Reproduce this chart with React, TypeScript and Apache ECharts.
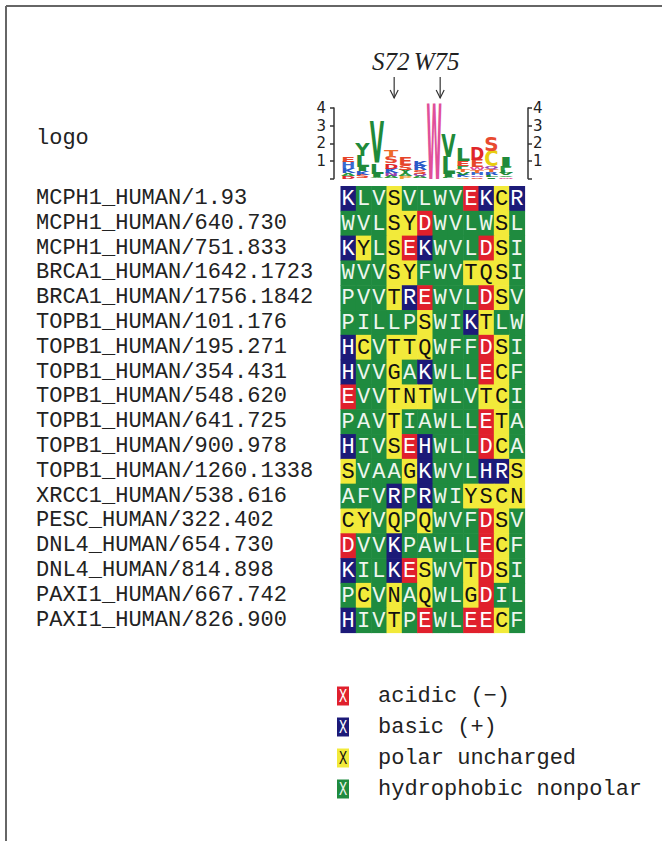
import React, { useEffect, useRef } from 'react';
import * as echarts from 'echarts';

const rowNames = [
  'MCPH1_HUMAN/1.93',
  'MCPH1_HUMAN/640.730',
  'MCPH1_HUMAN/751.833',
  'BRCA1_HUMAN/1642.1723',
  'BRCA1_HUMAN/1756.1842',
  'TOPB1_HUMAN/101.176',
  'TOPB1_HUMAN/195.271',
  'TOPB1_HUMAN/354.431',
  'TOPB1_HUMAN/548.620',
  'TOPB1_HUMAN/641.725',
  'TOPB1_HUMAN/900.978',
  'TOPB1_HUMAN/1260.1338',
  'XRCC1_HUMAN/538.616',
  'PESC_HUMAN/322.402',
  'DNL4_HUMAN/654.730',
  'DNL4_HUMAN/814.898',
  'PAXI1_HUMAN/667.742',
  'PAXI1_HUMAN/826.900',
];

const sequences = [
  'KLVSVLWVEKCR',
  'WVLSYDWVLWSL',
  'KYLSEKWVLDSI',
  'WVVSYFWVTQSI',
  'PVVTREWVLDSV',
  'PILLPSWIKTLW',
  'HCVTTQWFFDSI',
  'HVVGAKWLLECF',
  'EVVTNTWLVTCI',
  'PAVTIAWLLETA',
  'HIVSEHWLLDCA',
  'SVAAGKWVLHRS',
  'AFVRPRWIYSCN',
  'CYVQPQWVFDSV',
  'DVVKPAWLLECF',
  'KILKESWVTDSI',
  'PCVNAQWLGDIL',
  'HIVTPEWLEECF',
];

const columns = ['1', '2', '3', '4', '5', '6', '7', '8', '9', '10', '11', '12'];

const legendLabels = ['acidic (\u2212)', 'basic (+)', 'polar uncharged', 'hydrophobic nonpolar'];
const classColors = ['#e0202c', '#1c1a78', '#f2ea3a', '#1f8b3f'];
const classTextColors = ['#ffffff', '#ffffff', '#111111', '#eef6ee'];
const acidicSet = 'DE';
const basicSet = 'KRH';
const polarSet = 'STNQYCG';

const logoLetters = ['DAKHE', 'SKILY', 'AILV', 'ANKDST', 'PAYSE', 'AQSRK', 'W', 'FILV', 'GKVTFEL', 'SQHTWED', 'ILRTQCS', 'WAVLFI'];
const logoHeights = [
  [0.15, 0.15, 0.3, 0.35, 0.3],
  [0.2, 0.2, 0.25, 0.65, 0.75],
  [0.1, 0.15, 0.6, 2.35],
  [0.12, 0.18, 0.25, 0.3, 0.35, 0.35],
  [0.15, 0.15, 0.2, 0.3, 0.45],
  [0.12, 0.15, 0.2, 0.25, 0.28],
  [4.3],
  [0.1, 0.15, 1.0, 1.3],
  [0.1, 0.12, 0.15, 0.15, 0.2, 0.25, 0.76],
  [0.1, 0.1, 0.12, 0.15, 0.15, 0.42, 0.75],
  [0.1, 0.12, 0.15, 0.15, 0.17, 0.85, 0.84],
  [0.08, 0.1, 0.12, 0.15, 0.2, 0.55],
];

const markerLabels = ['S72', 'W75'];
const markerColumns = [3, 6];

const logoColors: Record<string, string> = {
  A: '#2f9a3f', V: '#1f8a3a', L: '#1f8a3a', I: '#1f8a3a', M: '#1f8a3a', F: '#2f9a3f', Y: '#1f8a3a',
  W: '#e0509a', D: '#e0262a', E: '#e6452a', K: '#2a5ac8', R: '#2a5ac8', H: '#3a6ad0',
  S: '#e84a30', T: '#ee6a2a', C: '#e8cc10', N: '#9a40b0', Q: '#9a40b0', G: '#f09a30', P: '#f0a030',
};

const advance: Record<string, number> = {
  A: 0.774, C: 0.734, D: 0.83, E: 0.683, F: 0.683, G: 0.821, H: 0.837, I: 0.372, K: 0.775, L: 0.637,
  M: 0.995, N: 0.837, P: 0.733, Q: 0.85, R: 0.77, S: 0.72, T: 0.682, V: 0.774, W: 1.03, Y: 0.724,
};

const MONO = '"Liberation Mono", "DejaVu Sans Mono", monospace';

function classOf(ch: string): number {
  if (acidicSet.includes(ch)) return 0;
  if (basicSet.includes(ch)) return 1;
  if (polarSet.includes(ch)) return 2;
  return 3;
}

export default function App() {
  const ref = useRef<HTMLDivElement>(null);

  useEffect(() => {
    document.body.style.margin = '0';
    if (!ref.current) return;
    const chart = echarts.init(ref.current, undefined, { renderer: 'svg' });

    const logoData: number[][] = [];
    const logoChars: string[] = [];
    logoLetters.forEach((letters, c) => {
      let base = 0;
      letters.split('').forEach((ch, k) => {
        const h = logoHeights[c][k];
        logoData.push([c, base, base + h]);
        logoChars.push(ch);
        base += h;
      });
    });

    const gridData: any[] = [];
    sequences.forEach((seq, r) => {
      seq.split('').forEach((ch, c) => {
        gridData.push({ value: [c, r, classOf(ch)], name: ch });
      });
    });

    const F = 20;
    const CAP = 0.729;
    const CENTRAL = 0.346;

    const logoAxisCommon = {
      type: 'value', gridIndex: 0, min: 0, max: 4, interval: 1,
      axisLine: { show: true, lineStyle: { color: '#333', width: 1.5 } },
      axisTick: { show: true, inside: false, length: 4, lineStyle: { color: '#333', width: 1.5 } },
      splitLine: { show: false },
    };

    const option: any = {
      animation: false,
      backgroundColor: '#ffffff',
      grid: [
        { left: 341, top: 108, width: 172, height: 70.5 },
        { left: 340.5, top: 186, width: 184, height: 446.5 },
      ],
      xAxis: [
        { type: 'category', gridIndex: 0, data: columns, show: false },
        { type: 'category', gridIndex: 1, data: columns, show: false },
      ],
      yAxis: [
        {
          ...logoAxisCommon, position: 'left', offset: 7,
          axisLabel: { margin: 8, fontSize: 15, color: '#222', fontFamily: 'DejaVu Sans',
            formatter: (v: number) => (v === 0 ? '' : String(v)) },
        },
        {
          ...logoAxisCommon, position: 'right', offset: 15,
          axisLabel: { margin: 5, fontSize: 15, color: '#222', fontFamily: 'DejaVu Sans',
            formatter: (v: number) => (v === 0 ? '' : String(v)) },
        },
        {
          type: 'category', gridIndex: 1, data: rowNames, inverse: true,
          axisLine: { show: false }, axisTick: { show: false },
          axisLabel: { interval: 0, align: 'left', margin: 304.5, fontSize: 22, color: '#222', fontFamily: MONO },
        },
      ],
      series: [
        {
          type: 'custom',
          xAxisIndex: 0,
          yAxisIndex: 0,
          clip: false,
          data: logoData,
          renderItem: (params: any, api: any) => {
            const ch = logoChars[params.dataIndex];
            const c = api.value(0);
            const p0 = api.coord([c, api.value(1)]);
            const p1 = api.coord([c, api.value(2)]);
            const bw = api.size([1, 0])[0];
            const h = p0[1] - p1[1];
            const sy = h / (CAP * F);
            const sx = (bw * 1.0) / ((advance[ch] || 0.75) * F);
            const cy = (p0[1] + p1[1]) / 2 + (CAP / 2 - CENTRAL) * F * sy;
            return {
              type: 'text',
              x: p0[0],
              y: cy,
              scaleX: sx,
              scaleY: sy,
              style: {
                text: ch, x: 0, y: 0,
                fill: logoColors[ch] || '#888', textFill: logoColors[ch] || '#888',
                font: `bold ${F}px "DejaVu Sans"`,
                align: 'center', verticalAlign: 'middle',
                textAlign: 'center', textVerticalAlign: 'middle',
              },
            };
          },
        },
        {
          type: 'custom',
          xAxisIndex: 1,
          yAxisIndex: 2,
          data: gridData,
          renderItem: (params: any, api: any) => {
            const item = gridData[params.dataIndex];
            const cls = item.value[2];
            const pt = api.coord([api.value(0), api.value(1)]);
            const sz = api.size([1, 1]);
            return {
              type: 'group',
              children: [
                {
                  type: 'rect',
                  shape: { x: pt[0] - sz[0] / 2, y: pt[1] - sz[1] / 2, width: sz[0] + 0.6, height: sz[1] + 0.6 },
                  style: { fill: classColors[cls] },
                },
                {
                  type: 'text',
                  style: {
                    text: item.name, x: pt[0], y: pt[1] + 1,
                    fill: classTextColors[cls], textFill: classTextColors[cls],
                    font: `22px ${MONO}`,
                    align: 'center', verticalAlign: 'middle',
                    textAlign: 'center', textVerticalAlign: 'middle',
                  },
                },
              ],
            };
          },
        },
      ],
    };

    chart.setOption(option);

    const graphics: any[] = [];
    markerColumns.forEach((col, i) => {
      const x = chart.convertToPixel({ xAxisIndex: 1 }, col) as number;
      graphics.push({
        type: 'text',
        style: {
          text: markerLabels[i], x: x - 3.5, y: 61,
          fill: '#222', textFill: '#222',
          font: 'italic 25px "Liberation Serif", serif',
          align: 'center', verticalAlign: 'middle', textAlign: 'center', textVerticalAlign: 'middle',
        },
      });
      graphics.push({ type: 'line', shape: { x1: x, y1: 77, x2: x, y2: 98 }, style: { stroke: '#333', lineWidth: 1.2 } });
      graphics.push({ type: 'polyline', shape: { points: [[x - 4, 90], [x, 98], [x + 4, 90]] }, style: { stroke: '#333', lineWidth: 1.2, fill: 'none' } });
    });

    graphics.push({ type: 'line', shape: { x1: 6, y1: 6, x2: 662, y2: 6 }, style: { stroke: '#666', lineWidth: 2 } });
    graphics.push({ type: 'line', shape: { x1: 6, y1: 6, x2: 6, y2: 841 }, style: { stroke: '#666', lineWidth: 2 } });

    graphics.push({
      type: 'text',
      style: {
        text: 'logo', x: 36, y: 138, fill: '#222', textFill: '#222', font: `22px ${MONO}`,
        align: 'left', verticalAlign: 'middle', textAlign: 'left', textVerticalAlign: 'middle',
      },
    });

    legendLabels.forEach((lab, i) => {
      const y = 696 + 31 * i;
      graphics.push({ type: 'rect', shape: { x: 337, y: y - 9.5, width: 12, height: 19 }, style: { fill: classColors[i] } });
      graphics.push({
        type: 'text',
        x: 343,
        y: y + 0.5,
        scaleX: 0.85,
        scaleY: 1.3,
        style: {
          text: 'X', x: 0, y: 0, fill: classTextColors[i], textFill: classTextColors[i],
          font: `16px ${MONO}`,
          align: 'center', verticalAlign: 'middle', textAlign: 'center', textVerticalAlign: 'middle',
        },
      });
      graphics.push({
        type: 'text',
        style: {
          text: lab, x: 378, y: y, fill: '#222', textFill: '#222', font: `22px ${MONO}`,
          align: 'left', verticalAlign: 'middle', textAlign: 'left', textVerticalAlign: 'middle',
        },
      });
    });

    chart.setOption({ graphic: graphics });

    return () => {
      chart.dispose();
    };
  }, []);

  return <div ref={ref} style={{ width: 662, height: 841 }} />;
}
